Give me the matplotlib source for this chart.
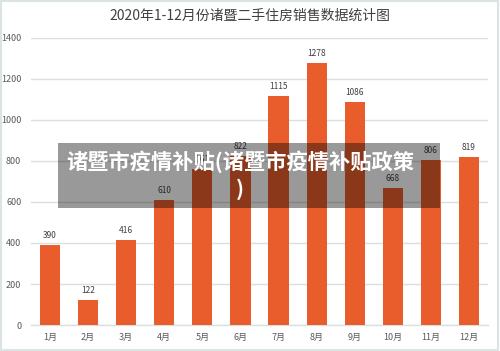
import matplotlib
matplotlib.use("Agg")
import matplotlib.pyplot as plt
from matplotlib.patches import Rectangle

plt.rcParams['font.family'] = ['Noto Sans CJK SC', 'DejaVu Sans']

months = ['1月', '2月', '3月', '4月', '5月', '6月', '7月', '8月', '9月', '10月', '11月', '12月']
sales = [390, 122, 416, 610, 761, 822, 1115, 1278, 1086, 668, 806, 819]
yticks = [0, 200, 400, 600, 800, 1000, 1200, 1400]
title = '2020年1-12月份诸暨二手住房销售数据统计图'
overlay_text = '诸暨市疫情补贴(诸暨市疫情补贴政策\n)'

fig = plt.figure(figsize=(5.0, 3.51), dpi=100)
ax = fig.add_axes([0.062, 0.074, 0.914, 0.818])

x = list(range(len(months)))
ax.bar(x, sales, width=0.53, color='#E95C2C', zorder=3)
for xi, v in zip(x, sales):
    ax.text(xi, v + 25, str(v), ha='center', va='bottom', fontsize=6, color='#404040', zorder=4)

ax.set_xlim(-0.5, len(months) - 0.5)
ax.set_ylim(0, 1400)
ax.set_yticks(yticks)
ax.set_yticklabels([str(t) for t in yticks])
ax.set_xticks(x)
ax.set_xticklabels(months)
ax.tick_params(axis='both', length=0, labelsize=6.5, labelcolor='#595959')
ax.tick_params(axis='y', pad=7)
ax.tick_params(axis='x', pad=6)
ax.grid(axis='y', color='#D9E0E2', linewidth=1.0, zorder=0)
for s in ['top', 'right', 'left']:
    ax.spines[s].set_visible(False)
ax.spines['bottom'].set_color('#D9E0E2')
ax.spines['bottom'].set_linewidth(1.0)

fig.text(0.5, 0.955, title, ha='center', va='center', fontsize=10, color='#404040')

# outer frame
fig.patches.append(Rectangle((0.002, 0.004), 0.994, 0.992, transform=fig.transFigure,
                             fill=False, edgecolor='#DCE3E5', linewidth=1.5))

# overlay band
fig.patches.append(Rectangle((58 / 500, 1 - 208 / 351), (440 - 58) / 500, (208 - 143) / 351,
                             transform=fig.transFigure, facecolor='black', alpha=0.4,
                             edgecolor='none', zorder=10))
fig.text(240 / 500, 1 - 175 / 351, overlay_text, ha='center', va='center',
         multialignment='center', fontsize=15.3, fontweight='bold', color='white',
         linespacing=1.3, zorder=11)

fig.savefig('out.png', dpi=100)
